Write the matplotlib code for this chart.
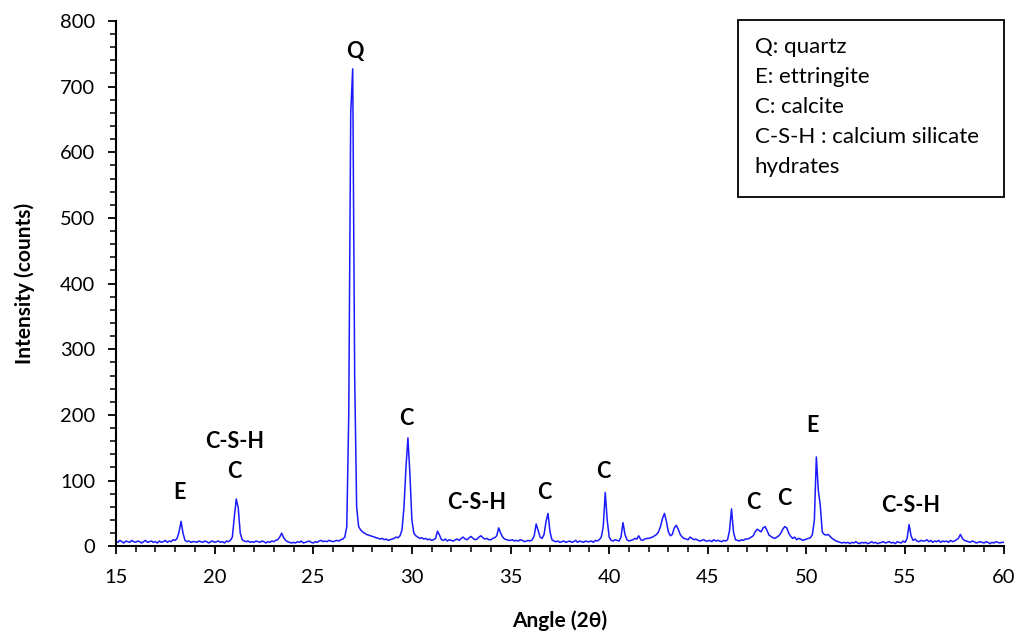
import numpy as np
import matplotlib
matplotlib.use("Agg")
import matplotlib.pyplot as plt
from matplotlib.patches import Rectangle
from matplotlib.ticker import MultipleLocator

plt.rcParams['font.family'] = ['Lato', 'DejaVu Sans']

# XRD pattern, 0.1 degree steps (one row per degree)
angulo = np.round(np.arange(15.0, 60.05, 0.1), 1)
intensidad = [
    8, 6, 9, 7, 5, 8, 7, 6, 9, 7,            # 15
    6, 8, 7, 5, 7, 9, 6, 7, 8, 6,            # 16
    7, 5, 8, 6, 7, 9, 6, 8, 7, 10,           # 17
    9, 12, 22, 38, 20, 9, 7, 8, 6, 7,        # 18
    7, 6, 8, 7, 6, 8, 7, 5, 7, 8,            # 19
    6, 7, 8, 6, 7, 5, 8, 7, 9, 14,           # 20
    45, 72, 58, 20, 10, 8, 7, 8, 6, 7,       # 21
    6, 8, 7, 6, 8, 7, 5, 7, 6, 8,            # 22
    7, 9, 10, 14, 20, 13, 9, 7, 6, 5,        # 23
    6, 5, 7, 6, 8, 5, 6, 7, 8, 6,            # 24
    5, 7, 6, 8, 9, 7, 8, 7, 9, 8,            # 25
    7, 8, 9, 8, 10, 11, 14, 30, 200, 660,    # 26
    727, 260, 60, 30, 25, 22, 20, 18, 17, 16,  # 27
    15, 14, 13, 12, 11, 12, 10, 11, 9, 10,   # 28
    11, 12, 14, 13, 16, 25, 60, 120, 165, 110,  # 29
    40, 20, 16, 14, 12, 13, 11, 12, 10, 11,  # 30
    9, 10, 12, 23, 17, 10, 9, 11, 8, 10,     # 31
    9, 8, 10, 11, 9, 12, 14, 11, 10, 13,     # 32
    15, 12, 10, 11, 14, 16, 13, 11, 12, 10,  # 33
    10, 12, 13, 16, 28, 20, 14, 11, 10, 9,   # 34
    9, 10, 8, 9, 8, 10, 9, 7, 8, 9,          # 35
    8, 10, 16, 34, 24, 14, 12, 18, 38, 50,   # 36
    22, 10, 8, 7, 8, 6, 7, 8, 6, 7,          # 37
    8, 6, 7, 9, 6, 8, 7, 6, 8, 7,            # 38
    7, 8, 6, 9, 8, 10, 14, 30, 82, 40,       # 39
    14, 9, 8, 10, 9, 8, 14, 36, 18, 10,      # 40
    8, 9, 10, 12, 11, 16, 10, 9, 11, 12,     # 41
    12, 13, 14, 16, 18, 22, 30, 42, 50, 38,  # 42
    22, 16, 18, 28, 32, 26, 18, 14, 12, 11,  # 43
    10, 14, 12, 10, 11, 9, 8, 9, 10, 8,      # 44
    8, 9, 7, 10, 8, 9, 8, 7, 9, 8,           # 45
    10, 24, 57, 22, 10, 9, 8, 10, 9, 11,     # 46
    11, 12, 14, 16, 22, 26, 24, 22, 28, 30,  # 47
    24, 17, 15, 13, 12, 14, 16, 20, 26, 30,  # 48
    28, 20, 15, 12, 14, 10, 12, 11, 9, 10,   # 49
    11, 12, 13, 18, 40, 136, 85, 62, 22, 18,  # 50
    17, 18, 15, 12, 10, 8, 7, 6, 5, 6,       # 51
    5, 6, 4, 6, 5, 7, 5, 4, 6, 5,            # 52
    6, 4, 5, 7, 5, 6, 4, 5, 6, 7,            # 53
    5, 6, 7, 5, 6, 4, 7, 6, 5, 8,            # 54
    6, 12, 33, 16, 9, 11, 8, 7, 9, 8,        # 55
    8, 10, 7, 9, 6, 8, 7, 9, 6, 8,           # 56
    7, 8, 6, 9, 7, 8, 10, 12, 18, 12,        # 57
    9, 8, 7, 6, 8, 7, 5, 6, 7, 6,            # 58
    5, 7, 6, 4, 6, 5, 7, 6, 5, 6,            # 59
    6,                                       # 60
]

# peak labels
etiquetas = ["Q", "E", "C-S-H", "C", "C", "C-S-H", "C", "C", "C", "C", "E", "C-S-H"]
etiqueta_x = [27.1, 18.2, 21.0, 21.0, 29.7, 33.3, 36.7, 39.7, 47.3, 48.9, 50.3, 55.3]
etiqueta_y = [753, 82, 160, 114, 195, 66, 82, 114, 67, 73, 184, 62]

leyenda = ["Q: quartz", "E: ettringite", "C: calcite",
           "C-S-H : calcium silicate", "hydrates"]

fig = plt.figure(figsize=(10.17, 6.33), dpi=100)
ax = fig.add_axes([0.114, 0.137, 0.873, 0.83])

ax.plot(angulo, intensidad, color="#1a1aff", linewidth=1.1)

for txt, x, y in zip(etiquetas, etiqueta_x, etiqueta_y):
    ax.text(x, y, txt, ha="center", va="center", fontsize=15.5, fontweight="bold")

ax.set_xlim(15, 60)
ax.set_ylim(0, 800)
ax.xaxis.set_major_locator(MultipleLocator(5))
ax.xaxis.set_minor_locator(MultipleLocator(1))
ax.yaxis.set_major_locator(MultipleLocator(100))
ax.yaxis.set_minor_locator(MultipleLocator(20))
ax.tick_params(which="major", length=6, width=1.3, labelsize=14.5, direction="out")
ax.tick_params(which="minor", length=4, width=1.1, direction="out")
ax.tick_params(axis="x", pad=10)
ax.tick_params(axis="y", pad=9)
for s in ["top", "right"]:
    ax.spines[s].set_visible(False)
for s in ["left", "bottom"]:
    ax.spines[s].set_linewidth(1.5)

ax.set_xlabel("Angle (2θ)", fontsize=15, fontweight="bold", labelpad=18)
ax.set_ylabel("Intensity (counts)", fontsize=15, fontweight="bold", labelpad=18)

# legend box
caja = Rectangle((0.7257, 0.689), 0.2616, 0.2796, transform=fig.transFigure,
                 facecolor="white", edgecolor="black", linewidth=1.3)
fig.patches.append(caja)
for i, linea in enumerate(leyenda):
    fig.text(0.742, 0.926 - i * 0.0474, linea, fontsize=16, va="center", ha="left")

fig.savefig("out.png", dpi=100)
